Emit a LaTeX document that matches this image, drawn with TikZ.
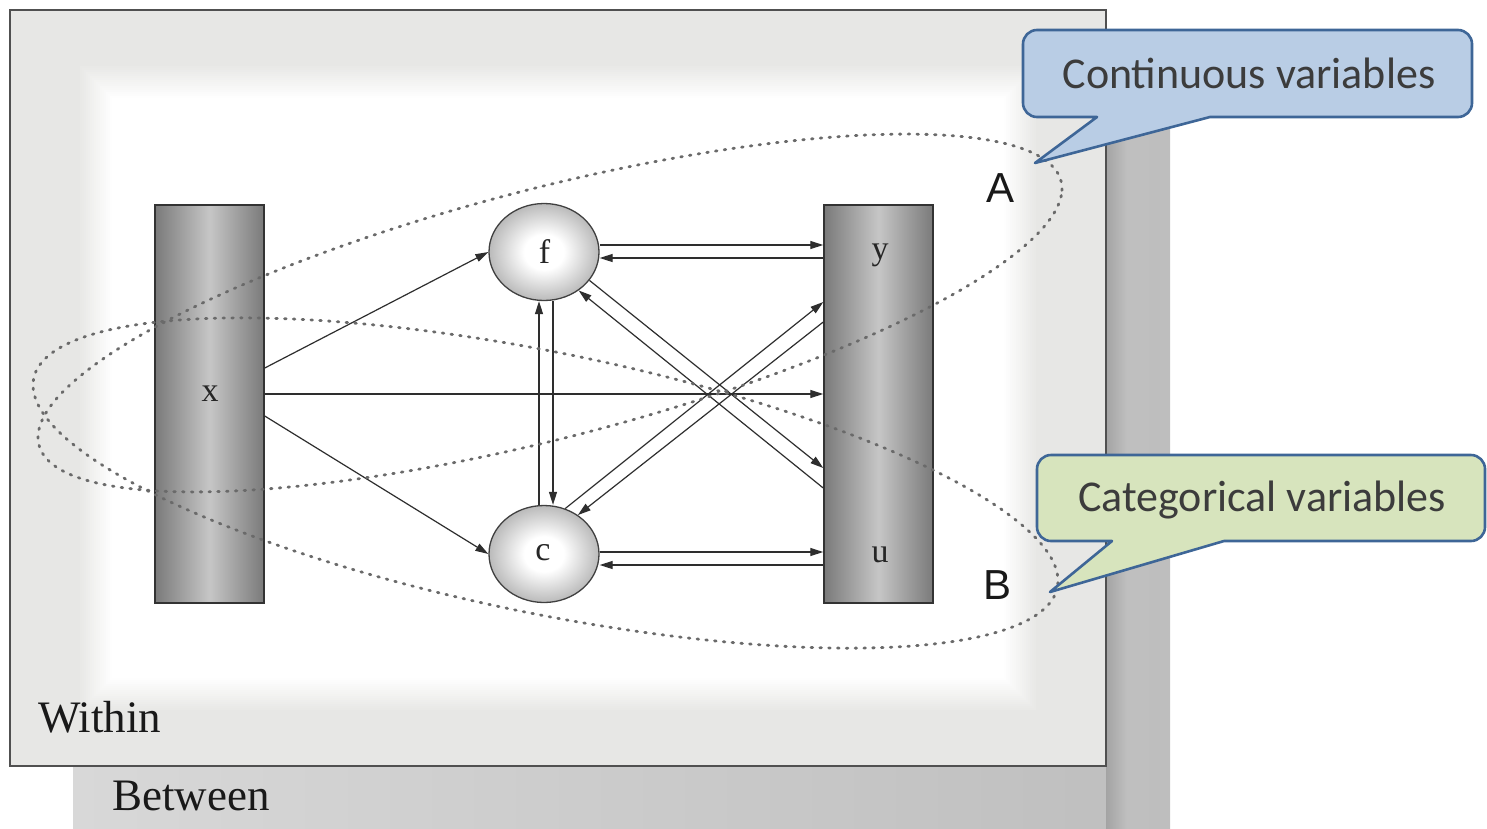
\documentclass[tikz,border=0pt]{standalone}
\usepackage{fontspec}
\setmainfont{Liberation Serif}
\newfontfamily\calloutfont{Carlito}
\newfontfamily\letterfont{Liberation Sans}
\usetikzlibrary{arrows.meta,shapes.geometric,calc}

\definecolor{framegray}{HTML}{E7E7E5}
\definecolor{framebd}{HTML}{505050}
\definecolor{backL}{HTML}{D8D8D8}
\definecolor{backR}{HTML}{BEBEBE}
\definecolor{boxdark}{HTML}{7A7A7A}
\definecolor{boxlight}{HTML}{C6C6C6}
\definecolor{linecol}{HTML}{2E2E2E}
\definecolor{dotcol}{HTML}{6A6A6A}
\definecolor{blueFill}{HTML}{B9CDE5}
\definecolor{greenFill}{HTML}{D7E4BD}
\definecolor{calloutBd}{HTML}{3E6697}
\definecolor{calloutTxt}{HTML}{3C3C3C}

% latent variable fill: wide white centre, grey rim
\pgfdeclareradialshading{latentshade}{\pgfpoint{0bp}{0bp}}{%
  color(0bp)=(white); color(9bp)=(white); color(25bp)=(black!27); color(50bp)=(black!27)}

\tikzset{
  varbox/.style={rectangle, draw=black!80, line width=1.5pt,
    minimum width=109pt, minimum height=398pt, inner sep=0pt,
    left color=boxdark, right color=boxdark, middle color=boxlight},
  latent/.style={ellipse, draw=black!75, line width=1.3pt,
    minimum width=110pt, minimum height=97pt, inner sep=0pt,
    shading=latentshade},
  varlabel/.style={font=\fontsize{34}{36}\selectfont, text=black!85, anchor=base, inner sep=0pt},
  levellabel/.style={font=\fontsize{45}{50}\selectfont, text=black!90, anchor=base west, inner sep=0pt},
  grouplabel/.style={font=\letterfont\fontsize{42}{44}\selectfont, text=black!90, inner sep=0pt},
  arr/.style={draw=linecol, line width=1.2pt, -{Triangle[length=13pt,width=8pt]}},
  grouping/.style={draw=dotcol, line width=2.8pt, line cap=round, dash pattern=on 1.6pt off 7.2pt},
  callout/.style={draw=calloutBd, line width=2.6pt, line join=round},
  callouttext/.style={font=\calloutfont\fontsize{44}{46}\selectfont, text=calloutTxt, anchor=base, inner sep=0pt}
}

\begin{document}
\begin{tikzpicture}[x=1pt,y=-1pt]
  \useasboundingbox (0,0) rectangle (1487,828);

  % between-level panel behind
  \shade[left color=backL, right color=backR] (73,73) rectangle (1170,830);
  \shade[left color=black!36, right color=backR] (1106,73) rectangle (1126,830);

  % within-level panel with soft bevel
  \fill[framegray] (10,10) rectangle (1106,766);
  \foreach \k in {0,...,16}{
    \pgfmathsetmacro\e{2*(16-\k)}
    \pgfmathtruncatemacro\m{100*(16-\k)/17}
    \fill[framegray!\m!white] (112-\e,98-\e) rectangle (1004+\e,678+\e);
  }
  \draw[framebd, line width=2pt] (10,10) rectangle (1106,766);

  \node[levellabel] (within) at (38,732) {Within};
  \node[levellabel] (between) at (112,810) {Between};

  % observed variable blocks and latent variables
  \node[varbox] (xbox) at (209.5,404) {};
  \node[varbox] (yubox) at (878.5,404) {};
  \node[latent] (f) at (544,252) {};
  \node[latent] (c) at (544,554) {};

  \node[varlabel] (xlab) at (210,401) {x};
  \node[varlabel] (flab) at (544.5,263) {f};
  \node[varlabel] (clab) at (543,560) {c};
  \node[varlabel] (ylab) at (880,259) {y};
  \node[varlabel] (ulab) at (880,562) {u};

  % paths
  \draw[arr] ([yshift=36pt]xbox.east) -- (f.west);
  \draw[arr] ([yshift=10pt]xbox.east) -- ([yshift=10pt]yubox.west);
  \draw[arr] ([yshift=-12pt]xbox.east) -- (c.west);

  \draw[arr] ([yshift=7pt]f.east) -- ([yshift=7pt]f.east -| yubox.west);
  \draw[arr] ([yshift=-6pt]f.east -| yubox.west) -- ([yshift=-6pt]f.east);
  \draw[arr] ([yshift=2pt]c.east) -- ([yshift=2pt]c.east -| yubox.west);
  \draw[arr] ([yshift=-11pt]c.east -| yubox.west) -- ([yshift=-11pt]c.east);

  \draw[arr] ([xshift=9pt]f.south) -- ([xshift=9pt]c.north);
  \draw[arr] ([xshift=-5pt]c.north) -- ([xshift=-5pt]f.south);

  \draw[arr] (f.-32) -- ([yshift=-64pt]yubox.west);
  \draw[arr] ([yshift=-84pt]yubox.west) -- (f.-48);
  \draw[arr] (c.65) -- ([yshift=102pt]yubox.west);
  \draw[arr] ([yshift=82pt]yubox.west) -- (c.49);

  % dotted groupings A and B
  \draw[grouping] plot[domain=0:357, samples=120, smooth cycle]
    ({550+512*cos(\x)}, {313-124.4*cos(\x)+128.6*sin(\x)});
  \draw[grouping] plot[domain=0:357, samples=120, smooth cycle]
    ({545.5+512.5*cos(\x)}, {483+97.9*cos(\x)+133*sin(\x)});

  \node[grouplabel] (labA) at (1000,188) {A};
  \node[grouplabel] (labB) at (997,585) {B};

  % callouts
  \draw[callout, fill=blueFill]
    (1097,117) -- (1035,163) -- (1210,117) -- (1458,117)
    arc[start angle=-90, end angle=0, radius=14pt] -- (1472,44)
    arc[start angle=0, end angle=90, radius=14pt] -- (1037,30)
    arc[start angle=90, end angle=180, radius=14pt] -- (1023,103)
    arc[start angle=180, end angle=270, radius=14pt] -- cycle;
  \node[callouttext] (contText) at (1249,88) {Continuous variables};

  \draw[callout, fill=greenFill]
    (1112,541) -- (1050,592) -- (1224,541) -- (1471,541)
    arc[start angle=-90, end angle=0, radius=14pt] -- (1485,469)
    arc[start angle=0, end angle=90, radius=14pt] -- (1051,455)
    arc[start angle=90, end angle=180, radius=14pt] -- (1037,527)
    arc[start angle=180, end angle=270, radius=14pt] -- cycle;
  \node[callouttext] (catText) at (1262,511) {Categorical variables};
\end{tikzpicture}
\end{document}
